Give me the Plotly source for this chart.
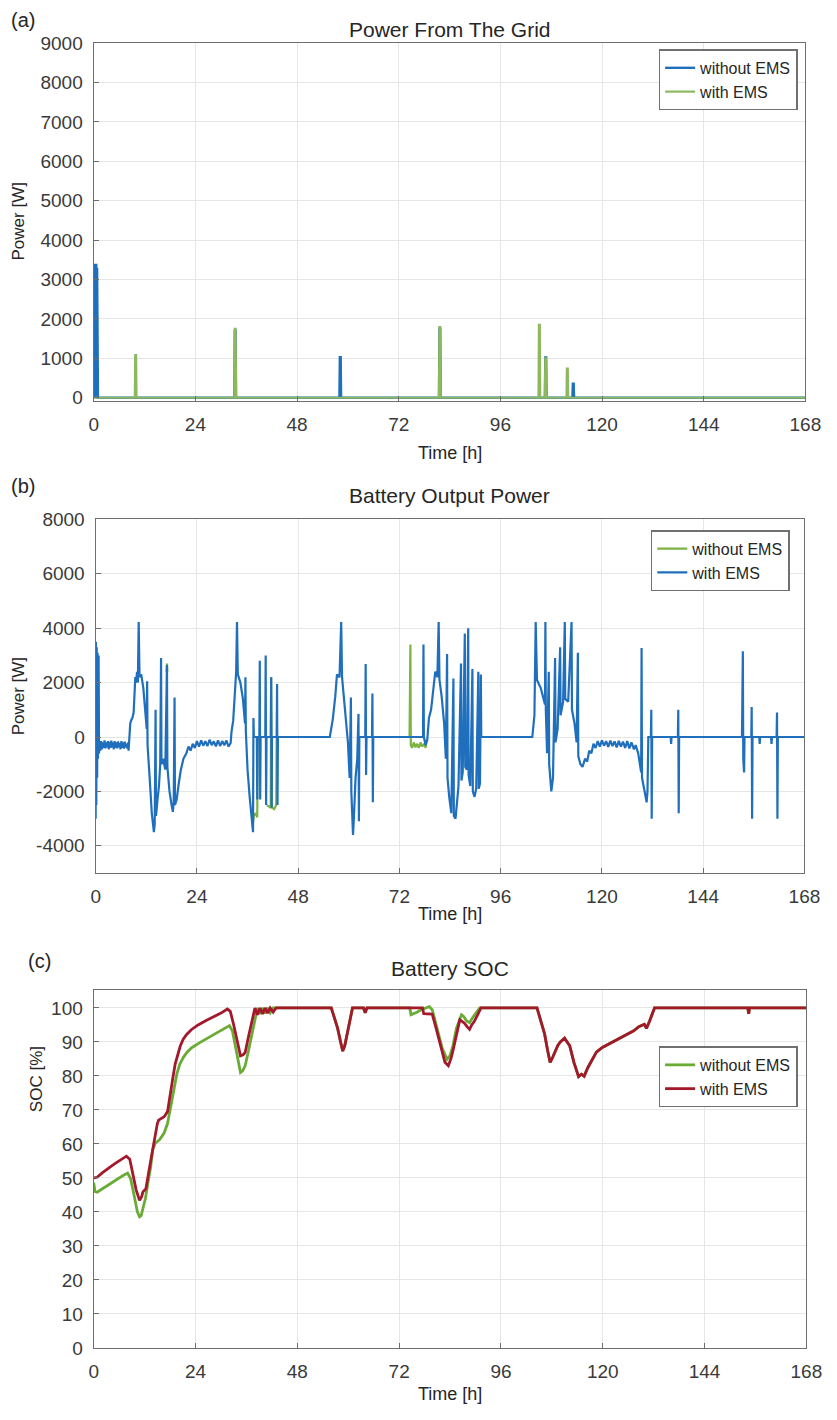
import plotly.graph_objects as go

W, H = 837, 1420

# ---------------- Data ----------------
X_TICKS = [0, 24, 48, 72, 96, 120, 144, 168]

# (a) Power from the grid
GRID_T_WITHOUT = [0, 0.1, 0.2, 0.3, 0.4, 0.5, 0.6, 0.7, 0.8, 0.9, 1.0,
                  33.2, 33.3, 33.5, 33.6, 58.0, 58.1, 58.3, 58.4,
                  81.5, 81.6, 81.8, 81.9, 106.5, 106.6, 106.8, 106.9,
                  113.0, 113.1, 113.3, 113.4, 168]
GRID_P_WITHOUT = [3400, 0, 3400, 0, 3400, 0, 3400, 0, 3300, 0, 0,
                  0, 1700, 1700, 0, 0, 1030, 1030, 0,
                  0, 1750, 1750, 0, 0, 1020, 1020, 0,
                  0, 360, 360, 0, 0]
GRID_T_WITH = [0, 9.7, 9.8, 10.0, 10.1, 33.2, 33.3, 33.5, 33.6,
               81.5, 81.6, 81.8, 81.9, 105.0, 105.1, 105.3, 105.4,
               106.5, 106.6, 106.8, 106.9, 111.6, 111.7, 111.9, 112.0, 168]
GRID_P_WITH = [0, 0, 1080, 1080, 0, 0, 1750, 1750, 0,
               0, 1790, 1790, 0, 0, 1850, 1850, 0,
               0, 1000, 1000, 0, 0, 740, 740, 0, 0]

# (b) Battery output power, with EMS
BAT_T_WITH = [
    0.0, 0.05, 0.15, 0.25, 0.35, 0.45, 0.55, 0.7, 0.8, 0.9,
    1.1, 1.3, 1.5, 1.7, 1.9, 2.1, 2.3, 2.5, 2.7, 2.9, 3.1, 3.3, 3.5, 3.7, 3.9, 4.1, 4.3,
    4.5, 4.7, 4.9, 5.1, 5.3, 5.5, 5.7, 5.9, 6.1, 6.3, 6.5, 6.7, 6.9, 7.1, 7.3, 7.5, 7.7,
    7.8, 8.0, 8.2, 8.5, 8.7, 9.0, 9.2, 9.4, 9.6, 9.8, 10.0, 10.2,
    10.4, 10.8, 11.3, 11.8, 12.1, 12.2, 12.3, 12.8, 13.3, 13.8, 14.0, 14.2, 14.3, 14.6,
    15.0, 15.3, 15.5, 15.6, 16.0, 16.5, 16.9, 17.0, 17.5, 18.0, 18.3, 18.5, 18.7, 18.8,
    19.2, 19.7, 20.2, 20.8, 21.5, 22.0, 22.5, 23.0, 23.5, 24.0, 24.5, 25.0, 25.5, 26.0,
    26.5, 27.0, 27.5, 28.0, 28.5, 29.0, 29.5, 30.0, 30.5, 31.0, 31.5, 32.0,
    32.2, 32.6, 33.0, 33.3, 33.5, 33.7, 34.3, 34.9, 35.4, 35.5, 35.6, 36.0, 36.5, 37.0,
    37.3, 37.4, 37.5, 38.2, 38.3, 38.4, 38.8, 38.9, 39.0, 39.1, 40.2, 40.3, 40.4, 40.5,
    41.5, 41.6, 41.7, 41.8, 42.9, 43.0, 43.1, 43.2,
    55.5, 55.8, 56.2, 56.8, 57.2, 57.8, 58.2, 58.4, 58.8, 59.3, 59.8, 60.2, 60.5, 60.6,
    61.0, 61.2, 61.6, 62.0, 62.3, 62.4, 62.5, 63.9, 64.0, 64.1, 64.2, 65.5, 65.6, 65.7,
    65.8,
    77.6, 77.7, 77.8, 78.2, 78.6, 79.0, 79.5, 80.0, 80.5, 81.0, 81.3, 81.5, 82.0, 82.6,
    83.0, 83.3, 83.4, 83.8, 84.3, 84.8, 84.9, 85.3, 85.6, 86.0, 86.6, 86.7, 87.0, 87.5,
    87.6, 88.0, 88.3, 88.4, 88.8, 89.3, 89.4, 89.8, 90.2, 90.7, 90.8, 91.1, 91.3, 91.4,
    103.5, 103.8, 104.0, 104.3, 104.5, 104.6, 105.5, 106.5, 106.6, 106.7, 107.0, 107.4,
    107.5, 108.0, 108.4, 108.9, 109.0, 109.5, 110.1, 110.2, 110.8, 111.2, 111.3, 112.0,
    112.8, 112.9, 113.5, 114.0, 114.3, 114.4, 114.9, 115.4, 116.0, 116.5, 117.0, 117.5,
    118.0, 118.5, 119.0, 119.5, 120.0, 120.5, 121.0, 121.5, 122.0, 122.5, 123.0, 123.5,
    124.0, 124.5, 125.0, 125.5, 126.0, 126.5, 127.0, 127.6,
    128.0, 128.6, 129.0, 129.3, 129.4, 129.5, 130.0, 130.6, 130.8, 131.0,
    131.6, 131.7, 131.8, 131.9, 136.3, 136.4, 136.5, 138.0, 138.1, 138.2, 138.3,
    153.2, 153.4, 153.5, 153.7, 153.8, 155.4, 155.5, 155.6, 155.7, 157.3, 157.4, 157.5,
    160.1, 160.2, 160.3, 161.4, 161.5, 161.6, 161.7, 168.0]
BAT_P_WITH = [
    -3000, 3500, -2500, 3300, -1500, 3100, -800, 3000, -600, -300,
    -500, -150, -450, -200, -400, -120, -420, -200, -380, -150, -450, -180, -400, -130, -380, -200, -450,
    -150, -400, -200, -420, -160, -380, -220, -450, -150, -400, -200, -430, -170, -380, -250, -420, -200,
    -500, 300, 500, 650, 700, 900, 1800, 2200, 2000, 2400, 2000, 4230,
    2200, 2300, 1800, 1000, 300, 2050, -300, -1500, -2800, -3500, -3200, 1000, -2900, -2400,
    -1800, -1000, 2900, -1000, -800, -1200, 2650, -1100, -2000, -2500, -2750, -2400, 1450, -2500,
    -2300, -1700, -1200, -800, -600, -350, -500, -250, -400, -150, -350, -120, -320, -150,
    -330, -100, -300, -160, -340, -120, -330, -150, -300, -130, -350, -220,
    200, 600, 1500, 2400, 4230, 2300, 2000, 1400, 500, 2200, 200, -1200, -2200, -3100,
    -3500, 700, 0, 0, -2300, 0, 0, 2800, -2300, 0, 0, 3000, -2500, 0,
    0, 2200, -2600, 0, 0, 1950, -2500, 0,
    0, 300, 650, 1500, 2300, 2200, 4230, 2200, 1500, 800, -200, -1500, 1450, -2000,
    -3600, -3000, -1500, -800, 850, -3100, 0, 0, 2680, -1400, 0, 0, 1600, -2400,
    0,
    0, 3400, 0, -300, -100, 700, 1000, 1600, 2400, 2200, 4230, 2100, 1500, 500,
    -800, 3050, -1500, -2200, -2800, 2150, -2900, -3000, -2400, -1800, 2700, -1600, -1300, 3800,
    -1100, -1200, 4000, -1400, -1800, 2500, -2000, -2200, -1900, 2400, -1900, -1700, 2300, 0,
    0, 500, 800, 4230, 2200, 2100, 1800, 1200, 4230, 1000, -600, 2400,
    -1000, -2000, -1500, 2900, -200, 300, 3300, 800, 1300, 4230, 1400, 1300,
    4230, 1000, 500, -200, 3100, -700, -1000, -1100, -800, -900, -500, -600,
    -250, -400, -150, -350, -120, -320, -150, -360, -130, -330, -160, -380,
    -140, -350, -170, -400, -150, -420, -200, -450,
    -300, -600, -1000, -1300, 3270, -1500, -1900, -2400, -2000, 0,
    0, 1000, -3000, 0, 0, -250, 0, 0, 1000, -2800, 0,
    0, 3150, -800, -1300, 0, 0, 1100, -3000, 0, 0, -250, 0,
    0, -250, 0, 0, 900, -3000, 0, 0]

# (b) Battery output power, without EMS (segments where it differs from "with EMS")
BAT_T_WITHOUT = [37.2, 37.5, 37.9, 38.3, 38.4, None,
                 40.6, 41.0, 41.5, 41.6, 41.8, 42.3, 42.8, 42.9, None,
                 74.4, 74.6, 74.7, 75.0, 75.4, 75.8, 76.2, 76.6, 77.0, 77.4, 77.8, 78.2, 78.4, None,
                 16.8, 16.9, 17.0]
BAT_P_WITHOUT = [-3300, -2900, -2800, -2950, 0, None,
                 -2500, -2550, -2600, 2200, -2600, -2650, -2500, 0, None,
                 0, 3400, -300, -400, -200, -380, -250, -400, -200, -350, -250, -400, -100, None,
                 2400, 2700, 2400]

# (c) Battery SOC
SOC_T_WITH = [0, 0.8, 2, 3, 4, 5, 6, 7, 7.7, 8.5, 9.2, 10.0, 10.8, 11.3, 11.6, 12.3, 13.0,
              13.9, 14.5, 15.0, 15.3, 16.0, 16.6, 17.4, 18.1, 18.6, 19.2, 19.8, 20.4, 21.1,
              21.9, 23.0, 24.6, 26.5, 28.4, 30.0, 31.5, 32.2, 33.0, 33.8, 34.6, 35.2, 35.7,
              36.3, 36.9, 37.5, 38.0, 38.6, 39.2, 39.8, 40.4, 41.0, 41.6, 42.3, 43.0,
              56.0, 56.8, 57.5, 58.2, 58.7, 59.2, 59.8, 60.4, 61.0, 63.6, 64.0, 64.4,
              77.5, 77.8, 79.8, 80.5, 81.3, 82.0, 82.8, 83.6, 84.2, 84.7, 85.5, 86.3, 86.9,
              87.4, 88.0, 88.6, 89.1, 89.7, 90.5, 91.3,
              104.5, 105.5, 106.3, 107.0, 107.6, 108.2, 108.8, 109.4, 110.0, 111.0, 111.6,
              112.2, 113.2, 114.3, 115.0, 115.6, 116.5, 117.4, 118.5, 119.9, 121.8, 123.6,
              125.5, 127.3, 128.5, 129.8, 130.3, 131.0, 132.2, 154.2, 154.4, 154.6, 168]
SOC_V_WITH = [50, 50.2, 51.5, 52.5, 53.3, 54.2, 55, 55.8, 56.4, 55.5, 51, 46.5, 43.4, 44.5, 45.9, 46.8, 52,
              58.3, 63, 66, 67, 67.5, 68, 69.5, 75.7, 79, 83.5, 86.5, 88.8, 90.8,
              92.2, 93.6, 95, 96.3, 97.5, 98.5, 99.7, 99, 95, 90.2, 85.9, 86.2, 86.9,
              90.5, 94.2, 97.5, 100, 98, 100, 98.2, 100, 98.5, 100, 98.8, 100,
              100, 97, 94, 90, 87.3, 89, 93, 96, 100, 100, 98.6, 100,
              100, 98.3, 98.2, 95, 91.2, 87.5, 84, 83, 85, 87.5, 92, 96.5, 96,
              95.5, 94.5, 93.7, 95, 96, 98, 100,
              100, 96, 92.3, 87.5, 84, 85.5, 87.5, 89, 90, 91.1, 90,
              88.9, 84, 79.8, 80.5, 79.9, 82.5, 84.6, 87, 88.4, 89.6, 90.8,
              92, 93.3, 94.5, 95.2, 94, 96, 100, 100, 98.3, 100, 100]

SOC_T_WITHOUT = [0, 0.3, 0.8, 2, 3, 4, 5, 6, 7, 8.0, 8.7, 9.5, 10.3, 10.8, 11.2, 11.6, 12.2,
                 12.8, 13.4, 13.9, 14.5, 15.5, 16.0, 16.6, 17.4, 18.1, 18.8, 19.6, 20.3, 21.1,
                 22.0, 23.1, 25.0, 26.9, 29.0, 31.5, 32.0, 32.7, 33.5, 34.2, 34.6, 35.1, 35.7,
                 36.5, 37.3, 38.0, 38.6, 39.2, 39.8, 40.4, 41.0, 41.6, 42.3, 43.0,
                 56.0, 56.8, 57.5, 58.2, 58.7, 59.2, 59.8, 60.4, 61.0, 63.6, 64.0, 64.4,
                 74.5, 74.8, 75.5, 76.3, 77.2, 79.1, 79.8, 80.5, 81.3, 82.2, 83.3, 84.0, 84.7,
                 85.5, 86.7, 87.2, 87.9, 88.6, 89.5, 91.0,
                 104.5, 105.5, 106.3, 107.0, 107.6, 108.2, 108.8, 109.4, 110.0, 111.0, 111.6,
                 112.2, 113.2, 114.3, 115.0, 115.6, 116.5, 117.4, 118.5, 119.9, 121.8, 123.6,
                 125.5, 127.3, 128.5, 129.8, 130.3, 131.0, 132.2, 154.2, 154.4, 154.6, 168]
SOC_V_WITHOUT = [48.6, 46, 45.8, 46.8, 47.6, 48.4, 49.2, 50, 50.8, 51.4, 49.8, 45, 40, 38.6, 39, 41, 44,
                 48.7, 53, 58.3, 60.2, 61.2, 62, 63.2, 66, 70.9, 75.5, 80.6, 83.5, 85.4,
                 87, 88.3, 89.8, 91.2, 92.7, 94.6, 94.8, 93.2, 88, 83, 81, 81.5, 83,
                 87.5, 92, 96.5, 100, 98.2, 100, 98.4, 100, 98.6, 100, 100,
                 100, 97, 94, 90, 87.3, 89, 93, 96, 100, 100, 98.6, 100,
                 100, 98, 98.3, 98.8, 99.5, 100.4, 99.5, 96, 92, 88, 84.9, 86, 89,
                 94, 98, 97.5, 96.2, 95.7, 97.5, 100,
                 100, 96, 92.3, 87.5, 84, 85.5, 87.5, 89, 90, 91.1, 90,
                 88.9, 84, 79.8, 80.5, 79.9, 82.5, 84.6, 87, 88.4, 89.6, 90.8,
                 92, 93.3, 94.5, 95.2, 94, 96, 100, 100, 98.3, 100, 100]

for _a, _b in [(GRID_T_WITHOUT, GRID_P_WITHOUT), (GRID_T_WITH, GRID_P_WITH),
               (BAT_T_WITH, BAT_P_WITH), (BAT_T_WITHOUT, BAT_P_WITHOUT),
               (SOC_T_WITH, SOC_V_WITH), (SOC_T_WITHOUT, SOC_V_WITHOUT)]:
    assert len(_a) == len(_b), (len(_a), len(_b))

# ---------------- Styling ----------------
FONT = "Liberation Sans, Arial, Helvetica, sans-serif"
BLUE = "#1f6fbd"
GREEN_A = "#8cb860"
GREEN_B = "#7cb342"
GREEN = "#6aab35"
RED = "#a3182b"
GRID = "#e6e6e6"
AXLINE = "#6e6e6e"
TXT = "#262626"
TICK_TXT = "#3a3a3a"


def px_x(x):
    return x / W


def px_y(y):
    return 1 - y / H


fig = go.Figure()

# (a)
fig.add_trace(go.Scatter(x=GRID_T_WITHOUT, y=GRID_P_WITHOUT, mode="lines", name="without EMS",
                         line=dict(color=BLUE, width=2.4), xaxis="x", yaxis="y", legend="legend"))
fig.add_trace(go.Scatter(x=GRID_T_WITH, y=GRID_P_WITH, mode="lines", name="with EMS",
                         line=dict(color=GREEN_A, width=2.2), xaxis="x", yaxis="y", legend="legend"))
# (b)
fig.add_trace(go.Scatter(x=BAT_T_WITHOUT, y=BAT_P_WITHOUT, mode="lines", name="without EMS",
                         line=dict(color=GREEN_B, width=2.2), xaxis="x2", yaxis="y2",
                         legend="legend2", connectgaps=False))
fig.add_trace(go.Scatter(x=BAT_T_WITH, y=BAT_P_WITH, mode="lines", name="with EMS",
                         line=dict(color=BLUE, width=2.2), xaxis="x2", yaxis="y2", legend="legend2"))
# (c)
fig.add_trace(go.Scatter(x=SOC_T_WITHOUT, y=SOC_V_WITHOUT, mode="lines", name="without EMS",
                         line=dict(color=GREEN, width=2.8), xaxis="x3", yaxis="y3", legend="legend3"))
fig.add_trace(go.Scatter(x=SOC_T_WITH, y=SOC_V_WITH, mode="lines", name="with EMS",
                         line=dict(color=RED, width=2.8), xaxis="x3", yaxis="y3", legend="legend3"))


def xax(left, right, anchor):
    return dict(domain=[px_x(left), px_x(right)], anchor=anchor, range=[0, 168],
                tickvals=X_TICKS, ticktext=[str(v) for v in X_TICKS],
                showgrid=True, gridcolor=GRID, gridwidth=1, zeroline=False,
                showline=True, linecolor=AXLINE, linewidth=1.3, mirror=True,
                ticks="inside", ticklen=5, tickcolor=AXLINE,
                tickfont=dict(family=FONT, size=19, color=TICK_TXT), ticklabelstandoff=6)


def yax(top, bottom, anchor, rng, tickvals):
    return dict(domain=[px_y(bottom), px_y(top)], anchor=anchor, range=rng,
                tickvals=tickvals, ticktext=[str(v) for v in tickvals],
                showgrid=True, gridcolor=GRID, gridwidth=1, zeroline=False,
                showline=True, linecolor=AXLINE, linewidth=1.3, mirror=True,
                ticks="inside", ticklen=5, tickcolor=AXLINE,
                tickfont=dict(family=FONT, size=19, color=TICK_TXT), ticklabelstandoff=6)


legend_common = dict(bgcolor="white", bordercolor="#707070", borderwidth=1.5,
                     font=dict(family=FONT, size=16, color=TXT),
                     xanchor="right", yanchor="top", tracegroupgap=0, itemwidth=30)

fig.update_layout(
    width=W, height=H, margin=dict(l=0, r=0, t=0, b=0),
    paper_bgcolor="white", plot_bgcolor="white",
    font=dict(family=FONT, color=TXT),
    xaxis=xax(91, 821, "y"),
    yaxis=yax(33.5, 397, "x", [-85, 9000], list(range(0, 9001, 1000))),
    xaxis2=xax(93, 820, "y2"),
    yaxis2=yax(517, 876, "x2", [-5000, 8000], [-4000, -2000, 0, 2000, 4000, 6000, 8000]),
    xaxis3=xax(91, 822, "y3"),
    yaxis3=yax(995, 1358, "x3", [0, 105.2], list(range(0, 101, 10))),
    legend=dict(x=px_x(813), y=px_y(40), **legend_common),
    legend2=dict(x=px_x(805), y=px_y(528), **legend_common),
    legend3=dict(x=px_x(813), y=px_y(1052), **legend_common),
    showlegend=True,
)

ann = []


def text(x, y, s, size, angle=0):
    ann.append(dict(x=px_x(x), y=px_y(y), xref="paper", yref="paper", text=s, showarrow=False,
                    font=dict(family=FONT, size=size, color=TXT), textangle=angle,
                    xanchor="center", yanchor="middle"))


text(456, 20, "Power From The Grid", 21)
text(456, 493, "Battery Output Power", 21)
text(456, 973, "Battery SOC", 21)
text(18, 10, "(a)", 20)
text(18, 483, "(b)", 20)
text(35, 965, "(c)", 20)
text(456, 450, "Time [h]", 18)
text(456, 918, "Time [h]", 18)
text(456, 1405, "Time [h]", 18)
text(14, 215, "Power [W]", 17, -90)
text(14, 697, "Power [W]", 17, -90)
text(33, 1085, "SOC [%]", 17, -90)
fig.update_layout(annotations=ann)

fig.write_html("out.html")
